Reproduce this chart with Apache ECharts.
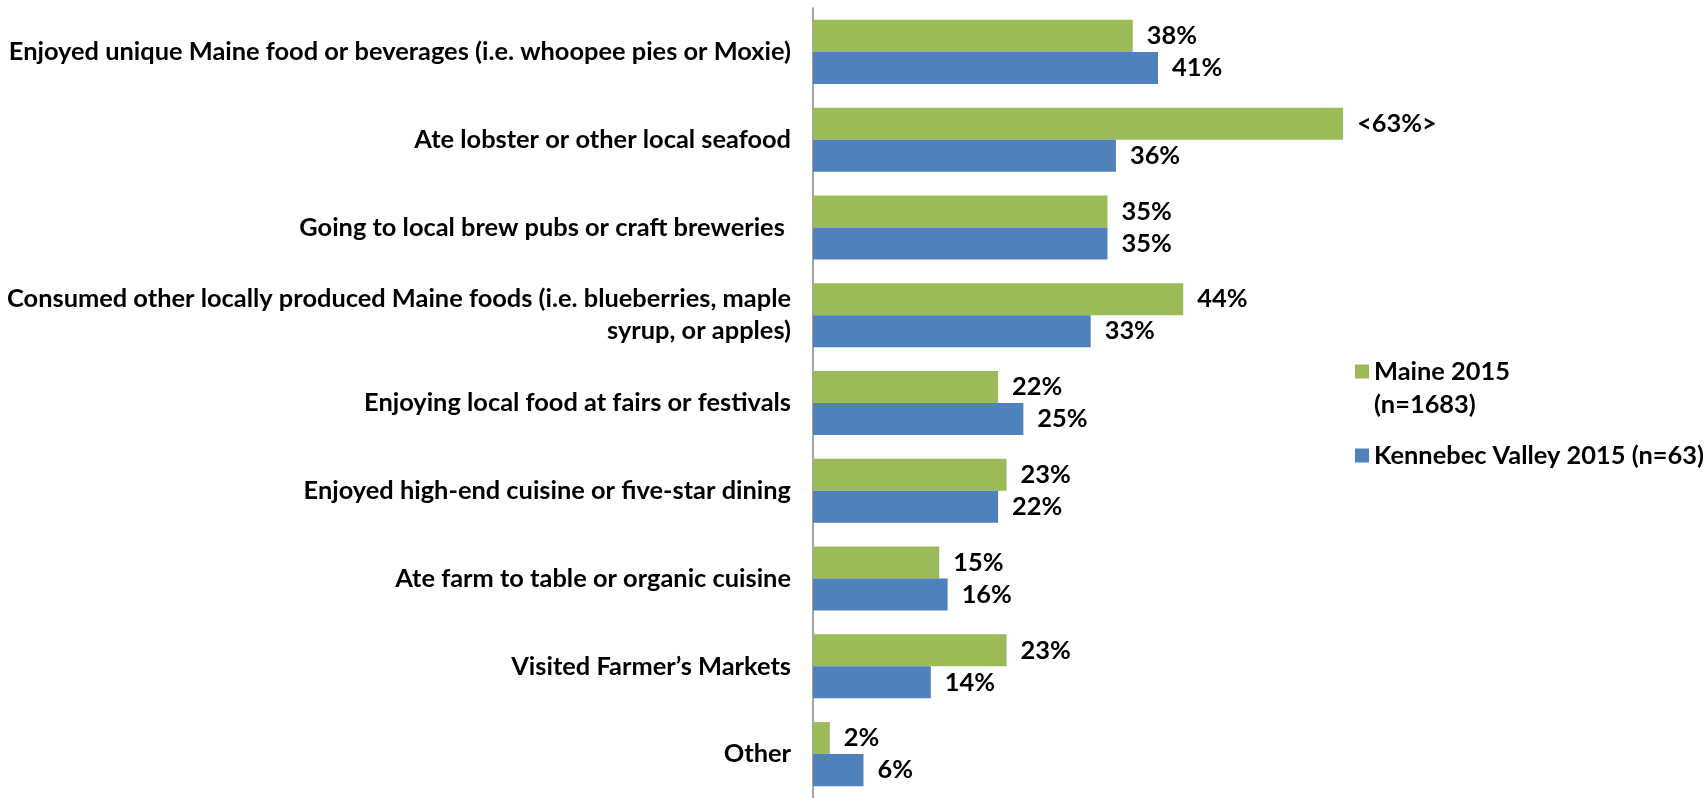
<!DOCTYPE html>
<html>
<head>
<meta charset="utf-8">
<script src="https://cdn.jsdelivr.net/npm/echarts@6/dist/echarts.min.js"></script>
<style>
  html, body { margin: 0; padding: 0; background: #fff; }
  #chart { width: 1704px; height: 798px; }
</style>
</head>
<body>
<div id="chart"></div>
<script>
// Food-related activities, share of respondents
const categories = [
  'Enjoyed unique Maine food or beverages (i.e. whoopee pies or Moxie)',
  'Ate lobster or other local seafood',
  'Going to local brew pubs or craft breweries ',
  'Consumed other locally produced Maine foods (i.e. blueberries, maple\nsyrup, or apples)',
  'Enjoying local food at fairs or festivals',
  'Enjoyed high-end cuisine or five-star dining',
  'Ate farm to table or organic cuisine',
  'Visited Farmer\u2019s Markets',
  'Other'
];
const maine2015 = [38, 63, 35, 44, 22, 23, 15, 23, 2];
const kennebec2015 = [41, 36, 35, 33, 25, 22, 16, 14, 6];
// Values marked as significantly different are wrapped in < >
const maineFlagged = [false, true, false, false, false, false, false, false, false];

const seriesNames = ['Maine 2015 (n=1683)', 'Kennebec Valley 2015 (n=63)'];
const FONT = 'Lato';
const FONT_SIZE = 25.4;

const chart = echarts.init(document.getElementById('chart'), null, { renderer: 'canvas' });

const labelStyle = {
  show: true,
  position: 'right',
  distance: 14,
  fontFamily: FONT,
  fontWeight: 'bold',
  fontSize: FONT_SIZE,
  color: '#000'
};

const legendText = {
  fontFamily: FONT, fontWeight: 'bold', fontSize: FONT_SIZE, color: '#000', lineHeight: 33
};

chart.setOption({
  animation: false,
  backgroundColor: '#fff',
  grid: { left: 813, top: 8, width: 589, height: 795, containLabel: false },
  xAxis: {
    type: 'value',
    min: 0,
    max: 70,
    show: false
  },
  yAxis: {
    type: 'category',
    inverse: true,
    data: categories,
    axisLine: { show: true, lineStyle: { color: '#868686', width: 1.5 } },
    axisTick: { show: false },
    axisLabel: {
      margin: 22,
      fontFamily: FONT,
      fontWeight: 'bold',
      fontSize: FONT_SIZE,
      lineHeight: 32,
      color: '#000',
      align: 'right'
    }
  },
  legend: [
    {
      // first line of the wrapped name sits level with the swatch
      data: [seriesNames[0]],
      orient: 'vertical',
      left: 1350,
      top: 317,
      itemWidth: 14,
      itemHeight: 14,
      icon: 'rect',
      formatter: () => '\u00a0\nMaine 2015\n(n=1683)',
      textStyle: legendText
    },
    {
      data: [seriesNames[1]],
      orient: 'vertical',
      left: 1350,
      top: 434,
      itemWidth: 14,
      itemHeight: 14,
      icon: 'rect',
      textStyle: legendText
    }
  ],
  series: [
    {
      name: seriesNames[0],
      type: 'bar',
      data: maine2015,
      barGap: '0%',
      barCategoryGap: '27%',
      itemStyle: { color: '#9BBB59' },
      label: Object.assign({}, labelStyle, {
        formatter: p => maineFlagged[p.dataIndex] ? '<' + p.value + '%>' : p.value + '%'
      })
    },
    {
      name: seriesNames[1],
      type: 'bar',
      data: kennebec2015,
      barGap: '0%',
      barCategoryGap: '27%',
      itemStyle: { color: '#4F81BD' },
      label: Object.assign({}, labelStyle, {
        formatter: p => p.value + '%'
      })
    }
  ]
});
</script>
</body>
</html>
